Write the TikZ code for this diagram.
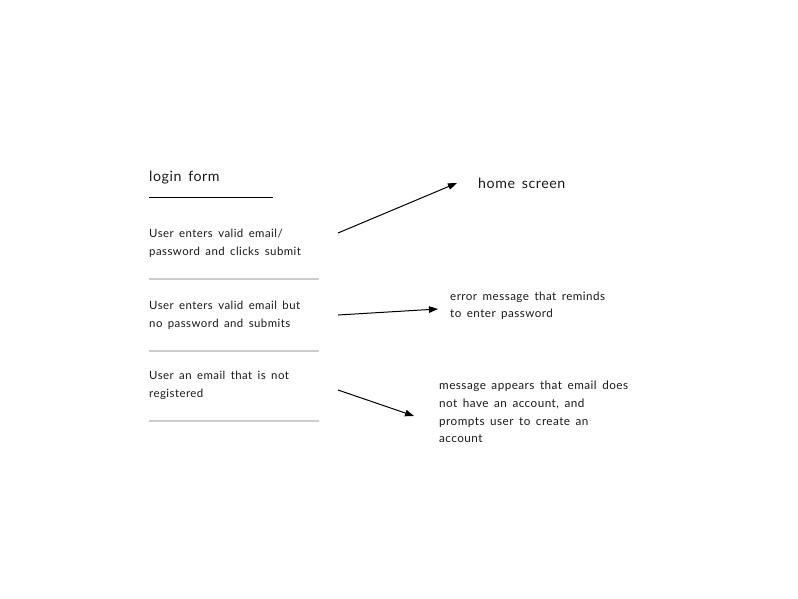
\documentclass[tikz,border=0pt]{standalone}
\usepackage{fontspec}
\setmainfont{Lato}[LetterSpace=4, WordSpace=1.6]
\definecolor{inkgray}{RGB}{25, 25, 25}
\definecolor{rulegray}{RGB}{205, 205, 205}
\usetikzlibrary{arrows.meta, positioning}

\begin{document}
\begin{tikzpicture}[x=1pt, y=-1pt, >={Triangle[length=9pt, width=6.5pt]}]
  \useasboundingbox (0, 0) rectangle (798, 599);

  % Form title and its underline
  \node[font=\fontsize{14.2}{16}\selectfont, inkgray, anchor=base west, inner sep=0] (title) at (149, 182) {login form};
  \draw[black, line width=1pt] (149, 197) -- (273, 197);

  % Cases on the left, separated by gray rules
  \foreach \name/\y/\txt in {valid/229/{User enters valid email/\\password and clicks submit}, nopass/301/{User enters valid email but\\no password and submits}, unreg/371/{User an email that is not\\registered}} {
    \node[font=\fontsize{11.4}{18}\selectfont, inkgray, anchor=north west, align=left, inner sep=0] (\name) at (149, \y) {\txt};
  }
  \foreach \y in {279, 351, 421} {
    \draw[rulegray, line width=1.5pt] (149, \y) -- (319, \y);
  }

  % Outcomes on the right
  \node[font=\fontsize{14.2}{16}\selectfont, inkgray, anchor=base west, inner sep=0] (home) at (478, 189) {home screen};
  \node[font=\fontsize{11.6}{17}\selectfont, inkgray, anchor=north west, align=left, inner sep=0] (error) at (450, 292) {error message that reminds\\to enter password};
  \node[font=\fontsize{11.7}{17.7}\selectfont, inkgray, anchor=north west, align=left, inner sep=0] (noacct) at (439, 381) {message appears that email does\\not have an account, and\\prompts user to create an\\account};

  % Arrow ends
  \coordinate (a1) at (338, 233);
  \coordinate (b1) at (457, 183);
  \coordinate (a2) at (338, 315);
  \coordinate (b2) at (438, 309);
  \coordinate (a3) at (338, 390);
  \coordinate (b3) at (414, 416);

  \draw[->, black, line width=1pt] (a1) -- (b1);
  \draw[->, black, line width=1pt] (a2) -- (b2);
  \draw[->, black, line width=1pt] (a3) -- (b3);
\end{tikzpicture}
\end{document}
